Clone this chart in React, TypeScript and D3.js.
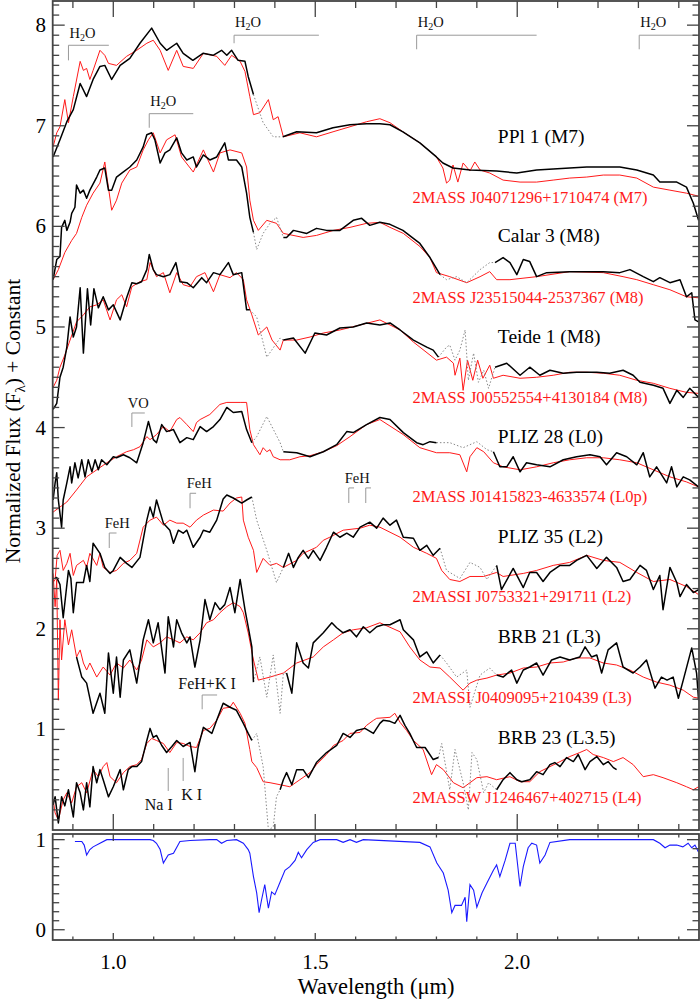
import React from "react";
import * as d3 from "d3";

type P = [number, number];

// ---------- PPl 1 (M7) ----------
const ppl1Solid: P[][] = [
  [[0.851,6.69],[0.868,6.86],[0.885,7.04],[0.901,7.16],[0.918,7.42],[0.934,7.29],[0.95,7.46],[0.967,7.59],[0.979,7.6],[0.996,7.46],[1.017,7.6],[1.041,7.67],[1.066,7.82],[1.095,7.97],[1.116,7.82],[1.132,7.75],[1.157,7.82],[1.173,7.72],[1.197,7.65],[1.222,7.72],[1.247,7.7],[1.268,7.75],[1.281,7.7],[1.293,7.75],[1.309,7.65],[1.326,7.64],[1.334,7.49],[1.347,7.31]],
  [[1.42,6.89],[1.454,6.94],[1.503,6.93],[1.544,6.98],[1.586,7.01],[1.627,7.02],[1.66,7.02],[1.685,7.01],[1.717,6.94],[1.759,6.83],[1.8,6.69],[1.816,6.63],[1.841,6.58],[1.883,6.56],[1.949,6.55],[1.999,6.53],[2.048,6.56],[2.13,6.58],[2.172,6.59],[2.254,6.59],[2.296,6.56],[2.337,6.51],[2.353,6.44],[2.395,6.44],[2.419,6.39],[2.436,6.23],[2.449,6.06]],
];
const ppl1Dotted: P[][] = [
  [[1.347,7.31],[1.371,7.03],[1.396,6.89],[1.42,6.89]],
];
const ppl1Red: P[] = [[0.851,6.79],[0.86,6.93],[0.868,6.99],[0.88,7.26],[0.889,7.03],[0.901,7.29],[0.918,7.64],[0.926,7.55],[0.934,7.57],[0.942,7.46],[0.95,7.55],[0.967,7.75],[0.979,7.7],[0.988,7.62],[1.008,7.6],[1.033,7.69],[1.058,7.75],[1.083,7.82],[1.099,7.85],[1.116,7.75],[1.136,7.55],[1.157,7.75],[1.173,7.59],[1.198,7.57],[1.223,7.72],[1.256,7.69],[1.276,7.6],[1.293,7.7],[1.314,7.64],[1.326,7.54],[1.338,7.29],[1.347,7.11],[1.363,7.13],[1.384,7.26],[1.396,7.06],[1.408,7.09],[1.421,6.89],[1.462,6.93],[1.503,6.89],[1.544,6.94],[1.586,6.99],[1.627,7.04],[1.66,7.07],[1.685,7.03],[1.717,6.94],[1.759,6.83],[1.8,6.69],[1.816,6.58],[1.825,6.43],[1.833,6.46],[1.841,6.61],[1.853,6.44],[1.866,6.63],[1.883,6.55],[1.895,6.64],[1.908,6.56],[1.932,6.53],[1.965,6.46],[2.007,6.44],[2.048,6.44],[2.089,6.46],[2.13,6.48],[2.172,6.49],[2.213,6.51],[2.254,6.51],[2.296,6.48],[2.337,6.39],[2.378,6.36],[2.419,6.33],[2.449,6.3]];

// ---------- Calar 3 (M8) ----------
const calar3Solid: P[][] = [
  [[0.851,5.47],[0.86,5.67],[0.868,5.7],[0.872,5.99],[0.88,6.06],[0.885,5.96],[0.893,6.04],[0.897,6.13],[0.905,6.19],[0.909,6.41],[0.918,6.33],[0.926,6.36],[0.934,6.28],[0.942,6.36],[0.959,6.49],[0.967,6.56],[0.979,6.58],[0.988,6.36],[0.996,6.36],[1.008,6.49],[1.021,6.53],[1.041,6.59],[1.058,6.66],[1.074,6.79],[1.083,6.91],[1.095,6.93],[1.103,6.86],[1.116,6.63],[1.128,6.73],[1.14,6.76],[1.157,6.88],[1.169,6.73],[1.182,6.66],[1.198,6.69],[1.206,6.59],[1.223,6.71],[1.239,6.66],[1.256,6.69],[1.276,6.83],[1.285,6.66],[1.305,6.66],[1.318,6.59],[1.33,6.33],[1.338,6.09],[1.347,5.94]],
  [[1.421,5.89],[1.429,5.89],[1.446,5.96],[1.479,5.93],[1.503,5.98],[1.528,5.96],[1.561,5.96],[1.594,6.06],[1.615,6.08],[1.635,6.01],[1.66,6.04],[1.685,6.02],[1.717,5.96],[1.759,5.83],[1.784,5.69],[1.809,5.52]],
  [[1.945,5.64],[1.965,5.69],[1.982,5.64],[1.999,5.52],[2.015,5.67],[2.031,5.65],[2.048,5.5],[2.073,5.54],[2.13,5.55],[2.213,5.55],[2.254,5.54],[2.279,5.57],[2.312,5.5],[2.337,5.45],[2.353,5.49],[2.378,5.44],[2.403,5.47],[2.419,5.3],[2.432,5.34],[2.44,5.07],[2.449,5.05]],
];
const calar3Dotted: P[][] = [
  [[1.347,5.94],[1.355,5.77],[1.371,5.93],[1.388,6.03],[1.404,6.09],[1.421,5.89]],
  [[1.809,5.52],[1.825,5.47],[1.85,5.5],[1.875,5.44],[1.908,5.57],[1.932,5.64],[1.945,5.64]],
];
const calar3Red: P[] = [[0.851,5.47],[0.864,5.57],[0.88,5.74],[0.897,5.86],[0.909,5.93],[0.922,6.09],[0.934,6.21],[0.95,6.33],[0.967,6.43],[0.979,6.64],[0.996,6.16],[1.008,6.26],[1.021,6.43],[1.041,6.56],[1.058,6.59],[1.074,6.76],[1.087,6.86],[1.099,6.93],[1.116,6.73],[1.132,6.86],[1.153,6.91],[1.169,6.69],[1.198,6.54],[1.223,6.76],[1.248,6.54],[1.264,6.73],[1.289,6.76],[1.318,6.73],[1.33,6.59],[1.338,6.26],[1.347,6.06],[1.359,5.96],[1.38,6.06],[1.404,6.03],[1.421,5.93],[1.47,5.89],[1.503,5.91],[1.545,5.96],[1.586,5.99],[1.627,6.03],[1.66,6.04],[1.685,5.99],[1.718,5.93],[1.759,5.8],[1.784,5.69],[1.8,5.54],[1.833,5.5],[1.875,5.44],[1.908,5.5],[1.932,5.55],[1.949,5.47],[1.982,5.47],[2.048,5.5],[2.13,5.55],[2.213,5.54],[2.262,5.5],[2.296,5.47],[2.337,5.42],[2.378,5.37],[2.419,5.3],[2.449,5.29]];

// ---------- Teide 1 (M8) ----------
const teide1Solid: P[][] = [
  [[0.851,4.18],[0.86,4.24],[0.868,4.5],[0.876,4.6],[0.885,4.8],[0.893,5.1],[0.901,4.9],[0.909,5.0],[0.918,5.39],[0.926,4.74],[0.936,5.38],[0.944,5.02],[0.952,5.38],[0.963,5.19],[0.975,5.3],[0.988,5.17],[1.0,5.22],[1.017,5.07],[1.033,5.29],[1.046,5.44],[1.058,5.43],[1.07,5.45],[1.083,5.57],[1.089,5.72],[1.099,5.57],[1.107,5.52],[1.124,5.5],[1.14,5.52],[1.155,5.64],[1.165,5.45],[1.182,5.44],[1.198,5.39],[1.219,5.49],[1.231,5.44],[1.248,5.54],[1.264,5.52],[1.285,5.64],[1.297,5.52],[1.318,5.54],[1.33,5.17],[1.338,5.17]],
  [[1.421,4.87],[1.446,4.89],[1.475,4.74],[1.499,4.94],[1.528,4.92],[1.561,4.99],[1.594,5.0],[1.627,5.04],[1.66,5.02],[1.685,5.04],[1.71,4.97],[1.743,4.87],[1.776,4.8],[1.792,4.77],[1.805,4.7]],
  [[1.945,4.6],[1.974,4.64],[2.007,4.52],[2.031,4.6],[2.056,4.52],[2.081,4.57],[2.114,4.54],[2.147,4.55],[2.197,4.55],[2.229,4.54],[2.262,4.57],[2.287,4.52],[2.304,4.45],[2.337,4.42],[2.361,4.39],[2.378,4.24],[2.395,4.37],[2.411,4.3],[2.427,4.39],[2.449,4.3]],
];
const teide1Dotted: P[][] = [
  [[1.338,5.17],[1.355,5.1],[1.38,4.7],[1.413,4.89],[1.421,4.87]],
  [[1.805,4.7],[1.825,4.8],[1.833,4.82],[1.846,4.67],[1.858,4.77],[1.871,4.97],[1.879,4.47],[1.892,4.74],[1.904,4.45],[1.917,4.57],[1.929,4.39],[1.945,4.6]],
];
const teide1Red: P[] = [[0.851,4.4],[0.86,4.47],[0.868,4.6],[0.88,4.72],[0.893,4.87],[0.909,5.05],[0.926,5.12],[0.942,5.2],[0.959,5.22],[0.975,5.27],[0.992,5.07],[1.008,5.27],[1.021,5.32],[1.033,5.2],[1.046,5.4],[1.066,5.45],[1.083,5.47],[1.091,5.64],[1.107,5.5],[1.124,5.54],[1.14,5.34],[1.157,5.54],[1.173,5.42],[1.19,5.4],[1.206,5.5],[1.227,5.54],[1.248,5.35],[1.264,5.52],[1.289,5.49],[1.305,5.54],[1.322,5.47],[1.33,5.27],[1.343,5.12],[1.359,4.92],[1.38,5.0],[1.393,4.87],[1.413,4.77],[1.421,4.87],[1.454,4.87],[1.487,4.9],[1.52,4.94],[1.561,4.97],[1.611,5.02],[1.66,5.07],[1.71,4.97],[1.743,4.85],[1.8,4.67],[1.825,4.7],[1.842,4.64],[1.846,4.52],[1.858,4.69],[1.866,4.37],[1.877,4.67],[1.89,4.47],[1.902,4.67],[1.915,4.49],[1.932,4.62],[1.941,4.49],[1.965,4.52],[2.007,4.49],[2.048,4.5],[2.089,4.52],[2.13,4.55],[2.172,4.55],[2.213,4.54],[2.254,4.52],[2.296,4.47],[2.337,4.44],[2.378,4.39],[2.419,4.35],[2.449,4.34]];

// ---------- PLIZ 28 (L0) ----------
const pliz28Solid: P[][] = [
  [[0.851,3.28],[0.856,3.45],[0.86,3.55],[0.864,3.28],[0.872,3.01],[0.876,3.28],[0.885,3.45],[0.893,3.61],[0.897,3.45],[0.905,3.65],[0.913,3.5],[0.922,3.68],[0.93,3.51],[0.938,3.68],[0.947,3.56],[0.955,3.68],[0.963,3.58],[0.971,3.68],[0.984,3.63],[1.0,3.71],[1.008,3.7],[1.025,3.73],[1.041,3.7],[1.058,3.65],[1.074,3.85],[1.087,4.06],[1.099,3.88],[1.107,3.85],[1.12,4.03],[1.132,3.96],[1.149,3.98],[1.165,3.85],[1.182,3.9],[1.198,3.88],[1.215,4.01],[1.231,3.96],[1.248,4.01],[1.264,4.08],[1.281,4.2],[1.297,4.15],[1.318,4.16],[1.33,3.98],[1.343,3.85]],
  [[1.421,3.76],[1.454,3.75],[1.487,3.71],[1.52,3.76],[1.553,3.83],[1.578,3.96],[1.594,3.95],[1.627,4.03],[1.66,4.1],[1.685,4.08],[1.718,3.95],[1.751,3.85],[1.767,3.83],[1.784,3.86],[1.8,3.85]],
  [[1.941,3.76],[1.957,3.61],[1.974,3.61],[1.99,3.71],[2.007,3.56],[2.023,3.65],[2.048,3.63],[2.081,3.61],[2.114,3.68],[2.147,3.71],[2.18,3.73],[2.205,3.71],[2.221,3.63],[2.246,3.75],[2.271,3.71],[2.296,3.63],[2.312,3.75],[2.328,3.51],[2.345,3.61],[2.37,3.45],[2.382,3.61],[2.395,3.41],[2.411,3.51],[2.427,3.48],[2.449,3.41]],
];
const pliz28Dotted: P[][] = [
  [[1.343,3.85],[1.355,3.91],[1.38,4.11],[1.413,3.85],[1.421,3.76]],
  [[1.8,3.85],[1.833,3.85],[1.866,3.8],[1.9,3.86],[1.925,3.78],[1.941,3.76]],
];
const pliz28Red: P[] = [[0.851,3.16],[0.868,3.21],[0.885,3.26],[0.909,3.38],[0.934,3.51],[0.959,3.58],[0.984,3.65],[1.008,3.71],[1.033,3.76],[1.05,3.78],[1.066,3.81],[1.083,3.91],[1.091,3.88],[1.107,3.93],[1.124,4.01],[1.14,3.96],[1.157,4.08],[1.165,4.1],[1.182,4.03],[1.198,3.96],[1.206,4.05],[1.215,4.08],[1.239,4.13],[1.264,4.23],[1.281,4.25],[1.314,4.25],[1.33,4.25],[1.338,3.98],[1.347,3.83],[1.355,3.78],[1.363,3.73],[1.371,3.8],[1.38,3.76],[1.388,3.78],[1.396,3.71],[1.413,3.68],[1.437,3.68],[1.462,3.71],[1.487,3.72],[1.52,3.76],[1.553,3.82],[1.586,3.91],[1.627,4.03],[1.66,4.08],[1.718,3.93],[1.759,3.8],[1.8,3.75],[1.833,3.75],[1.858,3.73],[1.875,3.56],[1.883,3.71],[1.9,3.8],[1.917,3.76],[1.941,3.65],[1.965,3.61],[2.007,3.58],[2.048,3.61],[2.089,3.65],[2.13,3.68],[2.172,3.7],[2.213,3.7],[2.254,3.68],[2.296,3.65],[2.337,3.58],[2.378,3.51],[2.419,3.46],[2.449,3.41]];

// ---------- PLIZ 35 (L2) ----------
const pliz35Solid: P[][] = [
  [[0.856,2.5],[0.86,2.51],[0.868,2.44],[0.876,2.11],[0.889,2.58],[0.895,2.5],[0.901,2.16],[0.909,2.46],[0.926,2.46],[0.934,2.63],[0.942,2.47],[0.95,2.85],[0.967,2.75],[0.979,2.61],[0.992,2.55],[1.0,2.58],[1.017,2.71],[1.033,2.65],[1.046,2.61],[1.066,2.71],[1.083,3.08],[1.091,3.21],[1.099,3.11],[1.107,3.28],[1.124,3.05],[1.14,2.98],[1.149,2.85],[1.161,2.98],[1.173,2.95],[1.182,2.98],[1.198,2.81],[1.215,2.91],[1.223,2.98],[1.239,2.96],[1.256,3.08],[1.272,3.29],[1.281,3.33],[1.297,3.3],[1.318,3.25],[1.33,3.28],[1.343,3.31]],
  [[1.421,2.61],[1.434,2.75],[1.446,2.61],[1.458,2.71],[1.47,2.78],[1.483,2.7],[1.495,2.78],[1.512,2.68],[1.528,2.81],[1.545,2.96],[1.561,2.91],[1.578,2.95],[1.594,2.91],[1.611,3.01],[1.635,3.06],[1.652,3.0],[1.668,3.1],[1.685,3.03],[1.701,3.08],[1.718,2.91],[1.743,2.9],[1.759,2.78],[1.776,2.83],[1.792,2.73],[1.809,2.8]],
  [[1.949,2.63],[1.961,2.39],[1.99,2.6],[2.015,2.41],[2.031,2.56],[2.048,2.56],[2.064,2.47],[2.081,2.56],[2.106,2.63],[2.13,2.63],[2.147,2.68],[2.172,2.73],[2.197,2.6],[2.221,2.71],[2.246,2.61],[2.262,2.47],[2.279,2.49],[2.304,2.63],[2.32,2.58],[2.337,2.39],[2.353,2.53],[2.361,2.19],[2.378,2.61],[2.395,2.46],[2.403,2.32],[2.419,2.44],[2.436,2.36],[2.449,2.39]],
];
const pliz35Dotted: P[][] = [
  [[1.343,3.31],[1.355,3.08],[1.38,2.78],[1.404,2.46],[1.421,2.61]],
  [[1.809,2.8],[1.825,2.58],[1.858,2.5],[1.883,2.66],[1.908,2.61],[1.925,2.49],[1.949,2.63]],
];
const pliz35Red: P[] = [[0.851,2.46],[0.856,2.49],[0.861,2.73],[0.868,2.78],[0.876,2.58],[0.885,2.65],[0.893,2.75],[0.901,2.53],[0.909,2.63],[0.926,2.68],[0.934,2.61],[0.942,2.75],[0.959,2.63],[0.967,2.75],[0.975,2.61],[0.992,2.56],[1.008,2.58],[1.025,2.65],[1.041,2.68],[1.058,2.75],[1.074,3.01],[1.091,3.08],[1.107,3.11],[1.124,3.03],[1.14,3.08],[1.157,3.05],[1.173,3.05],[1.19,3.01],[1.206,3.08],[1.223,3.13],[1.248,3.18],[1.272,3.17],[1.289,3.25],[1.305,3.3],[1.318,3.31],[1.322,3.08],[1.334,2.91],[1.347,2.78],[1.355,2.56],[1.371,2.7],[1.388,2.63],[1.404,2.65],[1.421,2.61],[1.454,2.68],[1.47,2.75],[1.503,2.81],[1.52,2.88],[1.536,2.91],[1.569,2.98],[1.611,3.0],[1.635,3.03],[1.66,3.01],[1.71,2.91],[1.743,2.81],[1.776,2.75],[1.8,2.7],[1.813,2.58],[1.833,2.49],[1.858,2.47],[1.883,2.52],[1.917,2.52],[1.949,2.56],[1.965,2.52],[2.015,2.55],[2.048,2.58],[2.089,2.63],[2.13,2.66],[2.172,2.73],[2.213,2.68],[2.254,2.66],[2.296,2.56],[2.337,2.47],[2.378,2.49],[2.419,2.42],[2.449,2.34]];

// ---------- BRB 21 (L3) ----------
const brb21Solid: P[][] = [
  [[0.909,1.72],[0.922,1.52],[0.934,1.46],[0.95,1.16],[0.967,1.36],[0.979,1.16],[0.988,1.76],[1.0,1.36],[1.008,1.72],[1.017,1.32],[1.025,1.69],[1.041,1.79],[1.058,1.46],[1.074,1.89],[1.087,2.09],[1.099,1.86],[1.111,2.06],[1.128,1.56],[1.136,2.12],[1.149,1.82],[1.157,2.09],[1.169,1.96],[1.182,1.86],[1.19,1.92],[1.202,1.62],[1.215,1.89],[1.227,2.29],[1.239,2.09],[1.252,2.26],[1.264,2.19],[1.276,2.24],[1.289,2.41],[1.301,2.16],[1.314,2.49],[1.326,2.19],[1.334,2.02],[1.343,1.82],[1.347,1.47]],
  [[1.429,1.56],[1.442,1.36],[1.454,1.86],[1.47,1.66],[1.483,1.61],[1.495,1.86],[1.52,1.96],[1.541,2.06],[1.553,2.01],[1.569,1.96],[1.586,1.99],[1.602,1.92],[1.619,2.02],[1.635,1.96],[1.652,2.02],[1.668,2.04],[1.685,2.04],[1.71,2.09],[1.718,1.99],[1.743,1.89],[1.759,1.72],[1.776,1.77],[1.792,1.66],[1.809,1.74]],
  [[1.949,1.54],[1.965,1.52],[1.986,1.59],[1.999,1.46],[2.015,1.59],[2.031,1.62],[2.048,1.66],[2.064,1.54],[2.085,1.69],[2.106,1.72],[2.13,1.69],[2.155,1.72],[2.168,1.82],[2.184,1.72],[2.197,1.74],[2.209,1.56],[2.225,1.79],[2.246,1.86],[2.262,1.62],[2.287,1.56],[2.304,1.62],[2.32,1.69],[2.341,1.41],[2.357,1.52],[2.371,1.49],[2.386,1.52],[2.399,1.31],[2.411,1.49],[2.432,1.81],[2.444,1.56],[2.449,1.29]],
];
const brb21Dotted: P[][] = [
  [[1.347,1.47],[1.363,1.72],[1.38,1.32],[1.396,1.74],[1.413,1.16],[1.421,1.56],[1.429,1.56]],
  [[1.809,1.74],[1.825,1.66],[1.85,1.52],[1.875,1.59],[1.883,1.22],[1.908,1.54],[1.932,1.61],[1.949,1.54]],
];
const brb21Red: P[] = [[0.851,2.55],[0.856,2.22],[0.86,2.49],[0.864,1.29],[0.868,2.09],[0.872,1.69],[0.88,2.09],[0.889,1.84],[0.897,1.99],[0.909,1.72],[0.918,1.79],[0.926,1.66],[0.934,1.59],[0.942,1.66],[0.959,1.52],[0.975,1.62],[0.992,1.54],[1.008,1.66],[1.025,1.61],[1.041,1.69],[1.058,1.59],[1.07,1.69],[1.083,1.89],[1.099,1.82],[1.116,1.86],[1.132,1.92],[1.149,1.89],[1.165,1.86],[1.182,1.92],[1.198,1.89],[1.215,1.96],[1.231,2.06],[1.248,2.09],[1.264,2.16],[1.281,2.22],[1.297,2.26],[1.314,2.22],[1.322,2.16],[1.334,1.96],[1.347,1.69],[1.359,1.49],[1.388,1.52],[1.421,1.56],[1.454,1.66],[1.495,1.72],[1.52,1.82],[1.545,1.89],[1.569,1.96],[1.594,1.99],[1.627,2.01],[1.66,2.06],[1.71,1.97],[1.734,1.82],[1.759,1.69],[1.784,1.62],[1.809,1.61],[1.833,1.52],[1.866,1.39],[1.883,1.46],[1.9,1.49],[1.925,1.51],[1.949,1.54],[1.982,1.56],[2.015,1.61],[2.048,1.62],[2.081,1.66],[2.114,1.67],[2.147,1.71],[2.18,1.71],[2.213,1.66],[2.246,1.64],[2.279,1.59],[2.312,1.52],[2.345,1.47],[2.378,1.44],[2.411,1.39],[2.436,1.32],[2.449,1.31]];

// ---------- BRB 23 (L3.5) ----------
const brb23Solid: P[][] = [
  [[0.851,0.25],[0.856,0.33],[0.864,0.07],[0.872,0.33],[0.88,0.24],[0.889,0.4],[0.901,0.13],[0.909,0.47],[0.918,0.37],[0.926,0.2],[0.934,0.47],[0.942,0.23],[0.95,0.63],[0.959,0.47],[0.967,0.6],[0.975,0.5],[0.988,0.33],[1.0,0.43],[1.017,0.6],[1.025,0.4],[1.037,0.6],[1.046,0.63],[1.058,0.63],[1.07,0.68],[1.083,0.89],[1.091,1.01],[1.099,0.92],[1.107,0.94],[1.12,0.84],[1.132,0.77],[1.145,0.83],[1.157,0.89],[1.173,0.83],[1.19,0.87],[1.202,0.58],[1.21,0.82],[1.223,1.02],[1.244,0.96],[1.256,1.09],[1.272,1.26],[1.289,1.22],[1.305,1.19],[1.322,1.06],[1.334,0.96],[1.343,0.89]],
  [[1.413,0.4],[1.421,0.5],[1.429,0.57],[1.442,0.45],[1.454,0.6],[1.47,0.6],[1.483,0.52],[1.503,0.67],[1.528,0.77],[1.553,0.84],[1.569,0.96],[1.586,0.92],[1.602,0.99],[1.623,1.01],[1.644,0.96],[1.66,1.06],[1.668,1.09],[1.685,1.08],[1.697,1.06],[1.71,1.14],[1.722,1.04],[1.734,0.96],[1.751,0.82],[1.772,0.82],[1.792,0.7],[1.805,0.72]],
  [[1.949,0.4],[1.965,0.5],[1.982,0.57],[1.999,0.5],[2.011,0.48],[2.031,0.5],[2.048,0.58],[2.064,0.55],[2.081,0.65],[2.093,0.67],[2.106,0.63],[2.122,0.72],[2.139,0.68],[2.151,0.75],[2.168,0.6],[2.18,0.68],[2.197,0.73],[2.213,0.65],[2.225,0.68],[2.238,0.62],[2.246,0.6]],
];
const brb23Dotted: P[][] = [
  [[1.343,0.89],[1.355,0.96],[1.371,0.63],[1.384,0.0],[1.396,0.03],[1.404,0.33],[1.413,0.4]],
  [[1.805,0.72],[1.813,0.86],[1.833,0.4],[1.846,0.8],[1.866,0.47],[1.879,0.2],[1.888,0.77],[1.9,0.7],[1.917,0.37],[1.929,0.47],[1.949,0.4]],
];
const brb23Red: P[] = [[0.851,0.3],[0.856,0.17],[0.864,0.1],[0.876,0.3],[0.885,0.37],[0.897,0.27],[0.909,0.43],[0.922,0.47],[0.934,0.37],[0.95,0.6],[0.963,0.53],[0.975,0.63],[0.984,0.67],[0.992,0.53],[1.008,0.47],[1.025,0.57],[1.041,0.63],[1.058,0.65],[1.07,0.7],[1.083,0.86],[1.095,0.91],[1.107,0.89],[1.124,0.86],[1.14,0.77],[1.157,0.87],[1.173,0.86],[1.19,0.83],[1.206,0.82],[1.223,0.99],[1.239,1.01],[1.256,1.09],[1.272,1.21],[1.289,1.22],[1.297,1.27],[1.314,1.16],[1.326,1.06],[1.338,0.8],[1.343,0.68],[1.355,0.62],[1.371,0.48],[1.388,0.47],[1.413,0.45],[1.437,0.43],[1.462,0.5],[1.487,0.57],[1.503,0.65],[1.528,0.75],[1.545,0.84],[1.569,0.89],[1.586,0.96],[1.611,0.97],[1.627,1.04],[1.644,1.09],[1.652,1.11],[1.685,1.12],[1.697,1.16],[1.71,1.07],[1.726,0.99],[1.743,0.89],[1.767,0.8],[1.788,0.55],[1.8,0.65],[1.817,0.6],[1.842,0.47],[1.866,0.42],[1.883,0.47],[1.9,0.52],[1.925,0.53],[1.949,0.5],[1.982,0.53],[2.007,0.48],[2.031,0.48],[2.056,0.58],[2.081,0.63],[2.106,0.68],[2.13,0.73],[2.155,0.77],[2.172,0.8],[2.188,0.75],[2.213,0.72],[2.238,0.68],[2.262,0.72],[2.287,0.65],[2.312,0.53],[2.337,0.55],[2.361,0.52],[2.395,0.47],[2.419,0.43],[2.436,0.4],[2.449,0.43]];

// ---------- Telluric transmission ----------
const telluric: P[] = [[0.905,0.98],[0.922,0.98],[0.928,0.94],[0.934,0.83],[0.942,0.89],[0.95,0.92],[0.967,0.96],[0.984,1.0],[1.091,1.0],[1.099,0.99],[1.107,0.96],[1.116,0.89],[1.124,0.74],[1.136,0.83],[1.149,0.85],[1.165,0.98],[1.19,0.99],[1.239,1.0],[1.256,1.0],[1.268,0.96],[1.281,0.99],[1.305,1.0],[1.322,0.96],[1.334,0.89],[1.338,0.85],[1.347,0.59],[1.355,0.41],[1.361,0.19],[1.367,0.33],[1.375,0.5],[1.384,0.24],[1.392,0.42],[1.4,0.39],[1.413,0.53],[1.425,0.66],[1.437,0.7],[1.45,0.77],[1.458,0.86],[1.466,0.8],[1.479,0.89],[1.495,0.97],[1.512,1.0],[1.553,1.0],[1.569,0.97],[1.586,1.0],[1.602,0.97],[1.619,1.0],[1.759,0.97],[1.784,0.92],[1.801,0.74],[1.817,0.63],[1.829,0.44],[1.838,0.19],[1.846,0.27],[1.862,0.27],[1.871,0.36],[1.875,0.09],[1.883,0.5],[1.892,0.44],[1.9,0.25],[1.913,0.41],[1.925,0.52],[1.941,0.66],[1.949,0.72],[1.957,0.59],[1.97,0.77],[1.982,0.96],[1.995,0.96],[2.007,0.48],[2.015,0.7],[2.027,0.91],[2.036,0.96],[2.048,0.94],[2.056,0.74],[2.069,0.83],[2.081,0.97],[2.13,1.0],[2.337,1.0],[2.353,0.96],[2.366,0.91],[2.378,0.94],[2.395,0.94],[2.41,0.92],[2.423,0.96],[2.432,0.91],[2.44,0.94],[2.449,0.86]];

const starNames = ["PPl 1 (M7)", "Calar 3 (M8)", "Teide 1 (M8)", "PLIZ 28 (L0)", "PLIZ 35 (L2)", "BRB 21 (L3)", "BRB 23 (L3.5)"];
const refNames = ["2MASS J04071296+1710474 (M7)", "2MASS J23515044-2537367 (M8)", "2MASS J00552554+4130184 (M8)", "2MASS J01415823-4633574 (L0p)", "2MASSI J0753321+291711 (L2)", "2MASSI J0409095+210439 (L3)", "2MASSW J1246467+402715 (L4)"];
const nameFlux = [6.83, 5.845, 4.84, 3.85, 2.85, 1.86, 0.855];
const refFlux = [6.23, 5.24, 4.245, 3.26, 2.27, 1.26, 0.27];
const nameLambda = 1.952;
const refLambda = 1.741;

const solids = [ppl1Solid, calar3Solid, teide1Solid, pliz28Solid, pliz35Solid, brb21Solid, brb23Solid];
const dotteds = [ppl1Dotted, calar3Dotted, teide1Dotted, pliz28Dotted, pliz35Dotted, brb21Dotted, brb23Dotted];
const reds = [ppl1Red, calar3Red, teide1Red, pliz28Red, pliz35Red, brb21Red, brb23Red];

// H2O brackets: [lambdaStart, lambdaEnd, levelFlux, tickEndFlux, labelFlux]
const h2oBands: number[][] = [
  [0.889, 0.989, 7.80, 7.65, 7.877],
  [1.299, 1.509, 7.90, 7.82, 7.977],
  [1.751, 2.048, 7.90, 7.76, 7.977],
  [2.302, 2.445, 7.90, 7.76, 7.977],
  [1.089, 1.198, 7.12, 6.98, 7.197],
];
// small "corner" brackets: [lambda, lambdaEnd, topFlux, bottomFlux]
const cornerBrackets: number[][] = [
  [1.046, 1.078, 4.145, 4.006],  // VO
  [0.99, 1.008, 2.952, 2.803],   // FeH 0.99
  [1.19, 1.205, 3.347, 3.198],   // FeH 1.19
  [1.583, 1.596, 3.40, 3.25],    // FeH 1.58
  [1.625, 1.638, 3.40, 3.25],    // FeH 1.62
  [1.22, 1.257, 1.342, 1.20],    // FeH+K I
];
// plain vertical lines: [lambda, topFlux, bottomFlux]
const lineMarks: number[][] = [
  [1.136, 0.616, 0.388], // Na I
  [1.173, 0.716, 0.487], // K I
];
const featureLabels: { text: string; lambda: number; flux: number; size: number }[] = [
  { text: "VO", lambda: 1.036, flux: 4.195, size: 14.5 },
  { text: "FeH", lambda: 0.979, flux: 3.0, size: 14.5 },
  { text: "FeH", lambda: 1.182, flux: 3.40, size: 14.5 },
  { text: "FeH", lambda: 1.573, flux: 3.446, size: 14.5 },
  { text: "FeH+K I", lambda: 1.161, flux: 1.402, size: 16 },
  { text: "Na I", lambda: 1.078, flux: 0.199, size: 16 },
  { text: "K I", lambda: 1.168, flux: 0.298, size: 16 },
];

const xMajor = [1.0, 1.5, 2.0];
const xTickLabels = ["1.0", "1.5", "2.0"];
const xMinor = d3.range(9, 25).map((i) => i / 10);
const yMajor = d3.range(1, 9);
const yMinor = d3.range(1, 83).map((i) => i / 10);
const tMinor = d3.range(0, 11).map((i) => i / 10);

const FONT = "'Liberation Serif', 'Times New Roman', serif";

export default function App() {
  const L = 52.7, R = 699, T = 1, B = 830, T2 = 834, B2 = 940;
  const x = d3.scaleLinear().domain([0.85, 2.45]).range([L, R]);
  const y = d3.scaleLinear().domain([0, 8.24]).range([B, T]);
  const yT = d3.scaleLinear().domain([-0.114, 1.063]).range([B2, T2]);
  const line = d3.line<P>().x((d) => x(d[0])).y((d) => y(d[1]));
  const lineT = d3.line<P>().x((d) => x(d[0])).y((d) => yT(d[1]));
  const axisColor = "#444";
  const isMajorX = (v: number) => xMajor.some((m) => Math.abs(m - v) < 1e-6);
  const isMajorY = (v: number) => Math.abs(v - Math.round(v)) < 1e-6;

  return (
    <svg width={700} height={1000} style={{ position: "absolute", left: 0, top: 0, background: "#fff" }} fontFamily={FONT}>
      <defs>
        <clipPath id="cm"><rect x={L} y={T} width={R - L} height={B - T} /></clipPath>
        <clipPath id="ct"><rect x={L} y={T2} width={R - L} height={B2 - T2} /></clipPath>
      </defs>
      <rect x={0} y={0} width={700} height={1000} fill="#fff" />

      {/* spectra */}
      <g clipPath="url(#cm)">
        {reds.map((r, i) => (
          <path key={"r" + i} d={line(r) || ""} fill="none" stroke="#ff1a1a" strokeWidth={1} strokeLinejoin="round" />
        ))}
        {dotteds.map((segs, i) => segs.map((s, j) => (
          <path key={"d" + i + "-" + j} d={line(s) || ""} fill="none" stroke="#888" strokeWidth={1} strokeDasharray="1.5,2" />
        )))}
        {solids.map((segs, i) => segs.map((s, j) => (
          <path key={"s" + i + "-" + j} d={line(s) || ""} fill="none" stroke="#000" strokeWidth={1.5} strokeLinejoin="round" />
        )))}
      </g>

      {/* telluric */}
      <g clipPath="url(#ct)">
        <path d={lineT(telluric) || ""} fill="none" stroke="#1a1aff" strokeWidth={1.1} />
      </g>

      {/* annotations: H2O */}
      {h2oBands.map((b, i) => (
        <g key={"h" + i}>
          <path d={`M${x(b[0])},${y(b[3])}V${y(b[2])}H${x(b[1])}`} fill="none" stroke="#999" strokeWidth={1} />
          <text x={x(b[0]) + 1} y={y(b[4])} fontSize={14.5} fill="#111">
            H<tspan dy={3} fontSize={10}>2</tspan><tspan dy={-3}>O</tspan>
          </text>
        </g>
      ))}
      {cornerBrackets.map((b, i) => (
        <path key={"c" + i} d={`M${x(b[0])},${y(b[3])}V${y(b[2])}H${x(b[1])}`} fill="none" stroke="#999" strokeWidth={1} />
      ))}
      {lineMarks.map((m, i) => (
        <line key={"m" + i} x1={x(m[0])} x2={x(m[0])} y1={y(m[1])} y2={y(m[2])} stroke="#999" strokeWidth={1} />
      ))}
      {featureLabels.map((f, i) => (
        <text key={"f" + i} x={x(f.lambda)} y={y(f.flux)} fontSize={f.size} fill="#111">{f.text}</text>
      ))}

      {/* star labels */}
      {starNames.map((n, i) => (
        <text key={"n" + i} x={x(nameLambda)} y={y(nameFlux[i])} fontSize={19.5} fill="#000">{n}</text>
      ))}
      {refNames.map((n, i) => (
        <text key={"rn" + i} x={x(refLambda)} y={y(refFlux[i])} fontSize={16.5} fill="#ff1a1a">{n}</text>
      ))}

      {/* frames */}
      <rect x={L} y={T} width={R - L} height={B - T} fill="none" stroke={axisColor} strokeWidth={1.8} />
      <rect x={L} y={T2} width={R - L} height={B2 - T2} fill="none" stroke={axisColor} strokeWidth={1.8} />

      {/* x ticks */}
      {xMinor.map((v, i) => {
        const mj = isMajorX(v);
        const xx = x(v);
        return (
          <g key={"xt" + i} stroke={axisColor} strokeWidth={1.3}>
            <line x1={xx} x2={xx} y1={T} y2={T + (mj ? 16 : 7)} />
            <line x1={xx} x2={xx} y1={B} y2={B - (mj ? 16 : 6)} />
            <line x1={xx} x2={xx} y1={T2} y2={T2 + (mj ? 7 : 3.5)} />
            <line x1={xx} x2={xx} y1={B2} y2={B2 - (mj ? 7 : 3.5)} />
          </g>
        );
      })}
      {/* y ticks main */}
      {yMinor.map((v, i) => {
        const mj = isMajorY(v);
        const yy = y(v);
        return (
          <g key={"yt" + i} stroke={axisColor} strokeWidth={1.3}>
            <line x1={L} x2={L + (mj ? 12 : 6.5)} y1={yy} y2={yy} />
            <line x1={R} x2={R - (mj ? 12 : 6.5)} y1={yy} y2={yy} />
          </g>
        );
      })}
      {/* y ticks telluric */}
      {tMinor.map((v, i) => {
        const mj = v === 0 || v === 1;
        const yy = yT(v);
        return (
          <g key={"tt" + i} stroke={axisColor} strokeWidth={1.3}>
            <line x1={L} x2={L + (mj ? 12 : 6.5)} y1={yy} y2={yy} />
            <line x1={R} x2={R - (mj ? 12 : 6.5)} y1={yy} y2={yy} />
          </g>
        );
      })}

      {/* tick labels */}
      {yMajor.map((v) => (
        <text key={"yl" + v} x={46} y={y(v)} dy="0.33em" textAnchor="end" fontSize={21}>{v}</text>
      ))}
      {[0, 1].map((v) => (
        <text key={"tl" + v} x={46} y={yT(v)} dy="0.33em" textAnchor="end" fontSize={21}>{v}</text>
      ))}
      {xMajor.map((v, i) => (
        <text key={"xl" + i} x={x(v)} y={969} textAnchor="middle" fontSize={21}>{xTickLabels[i]}</text>
      ))}

      {/* axis titles */}
      <text x={376} y={994} textAnchor="middle" fontSize={22.5}>Wavelength  (μm)</text>
      <text transform="translate(20,421) rotate(-90)" textAnchor="middle" fontSize={21.5}>
        Normalized Flux (F<tspan dy={5} fontSize={15}>λ</tspan><tspan dy={-5}>) + Constant</tspan>
      </text>
    </svg>
  );
}
